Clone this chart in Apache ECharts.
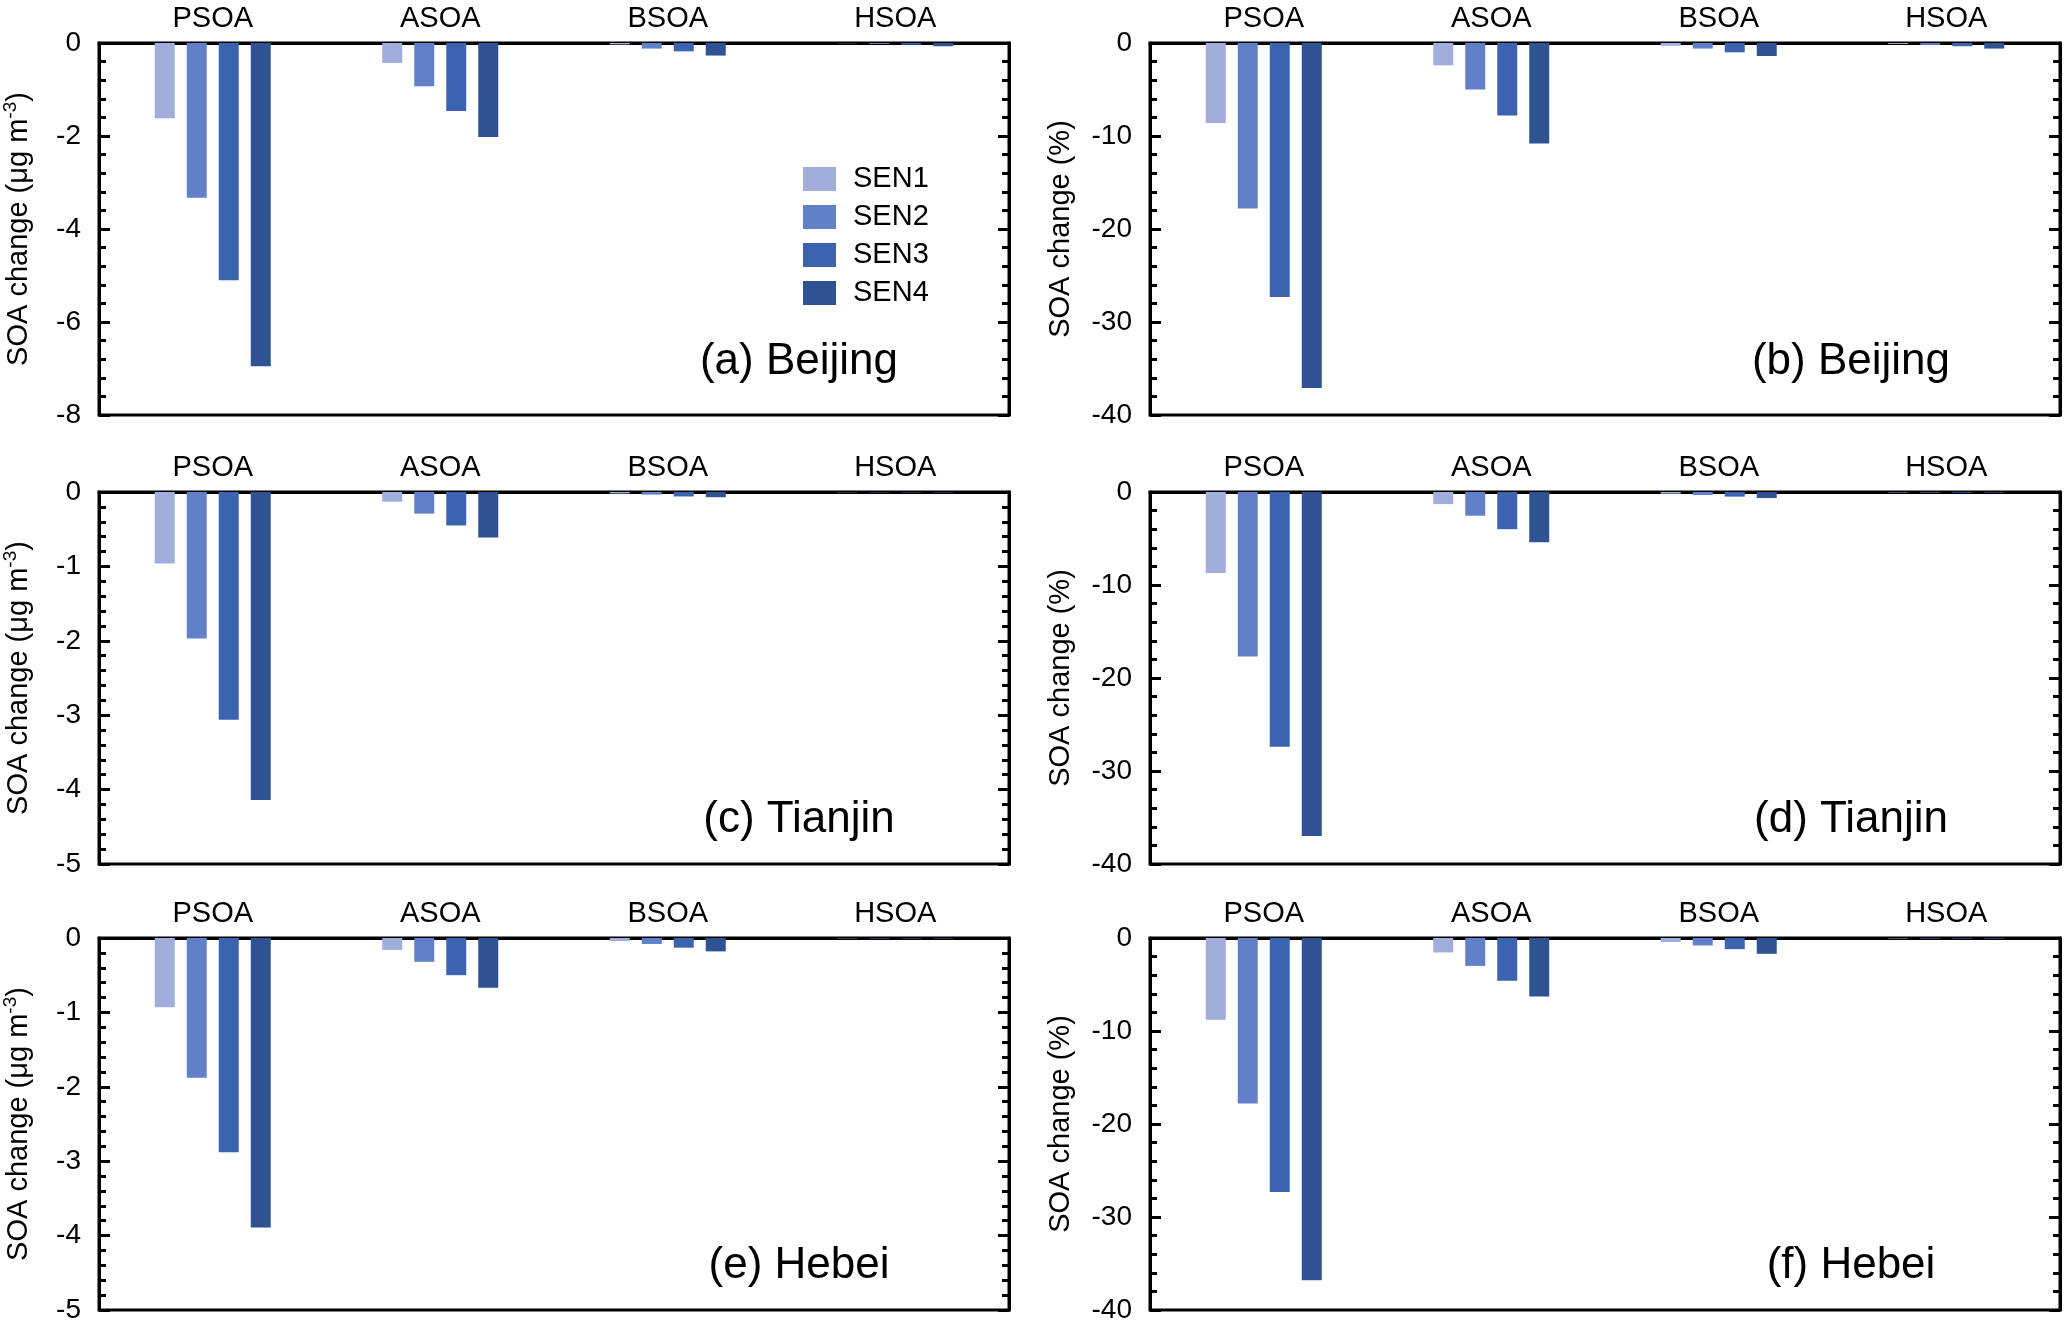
<!DOCTYPE html>
<html>
<head>
<meta charset="utf-8">
<script src="https://cdn.jsdelivr.net/npm/echarts@6/dist/echarts.min.js"></script>
<style>
html,body{margin:0;padding:0;background:#fff;}
#chart{width:2067px;height:1325px;}
</style>
</head>
<body>
<div id="chart"></div>
<script>
// ---------------- data ----------------
const categories = ['PSOA', 'ASOA', 'BSOA', 'HSOA'];
const scenarios = ['SEN1', 'SEN2', 'SEN3', 'SEN4'];
const scenarioColors = ['#a1aedb', '#6180c8', '#3b63b0', '#2f5392'];

// each row: one scenario, values by category (PSOA, ASOA, BSOA, HSOA)
const beijingConc = [
  [-1.62, -0.43, -0.03, -0.005],
  [-3.33, -0.93, -0.12, -0.02],
  [-5.10, -1.46, -0.18, -0.035],
  [-6.95, -2.02, -0.27, -0.07]
];
const beijingPct = [
  [-8.6, -2.4, -0.3, -0.1],
  [-17.8, -5.0, -0.6, -0.2],
  [-27.3, -7.8, -1.0, -0.35],
  [-37.1, -10.8, -1.4, -0.6]
];
const tianjinConc = [
  [-0.96, -0.13, -0.02, -0.004],
  [-1.97, -0.29, -0.035, -0.005],
  [-3.06, -0.45, -0.06, -0.006],
  [-4.14, -0.61, -0.07, -0.008]
];
const tianjinPct = [
  [-8.7, -1.3, -0.18, -0.05],
  [-17.7, -2.55, -0.32, -0.06],
  [-27.4, -4.0, -0.5, -0.07],
  [-37.0, -5.4, -0.65, -0.08]
];
const hebeiConc = [
  [-0.93, -0.16, -0.04, -0.005],
  [-1.88, -0.32, -0.08, -0.006],
  [-2.88, -0.50, -0.13, -0.007],
  [-3.89, -0.67, -0.18, -0.008]
];
const hebeiPct = [
  [-8.8, -1.55, -0.43, -0.05],
  [-17.8, -3.0, -0.8, -0.06],
  [-27.3, -4.6, -1.2, -0.07],
  [-36.8, -6.3, -1.7, -0.08]
];

const panelLabels = ['(a) Beijing', '(b) Beijing', '(c) Tianjin', '(d) Tianjin', '(e) Hebei', '(f) Hebei'];
const concTitle = '{n|SOA change (μg m}{s|-3}{n|)}';
const pctTitle = 'SOA change (%)';

// ---------------- layout ----------------
const FONT = '"Liberation Sans", Arial, Helvetica, sans-serif';
const rowTops = [43, 492, 938];
const rowHeight = 372;
const colLeft = [97, 1150];
const colWidth = [912, 910];
const labelCenterX = [799, 1851];
const labelOffsetFromBottom = [53, 44, 44];

const panels = [
  {data: beijingConc, min: -8, interval: 2, title: concTitle, col: 0, row: 0},
  {data: beijingPct, min: -40, interval: 10, title: pctTitle, col: 1, row: 0},
  {data: tianjinConc, min: -5, interval: 1, title: concTitle, col: 0, row: 1},
  {data: tianjinPct, min: -40, interval: 10, title: pctTitle, col: 1, row: 1},
  {data: hebeiConc, min: -5, interval: 1, title: concTitle, col: 0, row: 2},
  {data: hebeiPct, min: -40, interval: 10, title: pctTitle, col: 1, row: 2}
];

const grid = [], xAxis = [], yAxis = [], series = [], graphic = [];

panels.forEach((p, i) => {
  grid.push({
    left: colLeft[p.col], top: rowTops[p.row], width: colWidth[p.col], height: rowHeight,
    show: true, borderColor: '#000', borderWidth: 3, backgroundColor: 'transparent'
  });
  xAxis.push({
    type: 'category', gridIndex: i, data: categories, position: 'top',
    axisLine: {show: true, onZero: false, lineStyle: {color: '#000', width: 3}},
    axisTick: {show: false},
    axisLabel: {color: '#000', fontSize: 29, fontFamily: FONT, margin: 10},
    splitLine: {show: false}
  });
  const common = {
    type: 'value', gridIndex: i, min: p.min, max: 0, interval: p.interval,
    axisLine: {show: true, onZero: false, lineStyle: {color: '#000', width: 3}},
    axisTick: {show: true, inside: true, length: 11, lineStyle: {color: '#000', width: 3}},
    minorTick: {show: true, splitNumber: 5, length: 7, lineStyle: {color: '#000', width: 3}},
    splitLine: {show: false}, minorSplitLine: {show: false}
  };
  yAxis.push(Object.assign({}, common, {
    position: 'left',
    name: p.title, nameLocation: 'middle', nameRotate: 90,
    nameGap: p.col === 0 ? 62 : 75,
    nameTextStyle: {
      color: '#000', fontSize: 29, fontFamily: FONT,
      rich: {
        n: {fontSize: 29, fontFamily: FONT, color: '#000', lineHeight: 36, verticalAlign: 'middle'},
        s: {fontSize: 19, fontFamily: FONT, color: '#000', lineHeight: 18, verticalAlign: 'top'}
      }
    },
    axisLabel: {color: '#000', fontSize: 28, fontFamily: FONT, margin: 18}
  }));
  yAxis.push(Object.assign({}, common, {
    position: 'right',
    axisLabel: {show: false}
  }));
  scenarios.forEach((s, k) => {
    series.push({
      name: s, type: 'bar', xAxisIndex: i, yAxisIndex: 2 * i,
      data: p.data[k], barWidth: 20, barGap: '60%',
      itemStyle: {color: scenarioColors[k]},
      emphasis: {disabled: true}, animation: false
    });
  });
  graphic.push({
    type: 'text',
    x: labelCenterX[p.col],
    y: rowTops[p.row] + rowHeight - labelOffsetFromBottom[p.row],
    style: {
      text: panelLabels[i], fill: '#000', fontSize: 44, fontFamily: FONT,
      align: 'center', verticalAlign: 'middle'
    }
  });
});

const chart = echarts.init(document.getElementById('chart'), null, {renderer: 'canvas'});
chart.setOption({
  backgroundColor: '#fff',
  animation: false,
  textStyle: {fontFamily: FONT},
  grid, xAxis, yAxis, series, graphic,
  legend: {
    data: scenarios, orient: 'vertical', left: 798, top: 157,
    itemWidth: 33, itemHeight: 24, itemGap: 4, icon: 'rect',
    selectedMode: false,
    textStyle: {color: '#000', fontSize: 29, fontFamily: FONT, lineHeight: 34, padding: [0, 0, 0, 12]}
  }
});
</script>
</body>
</html>
